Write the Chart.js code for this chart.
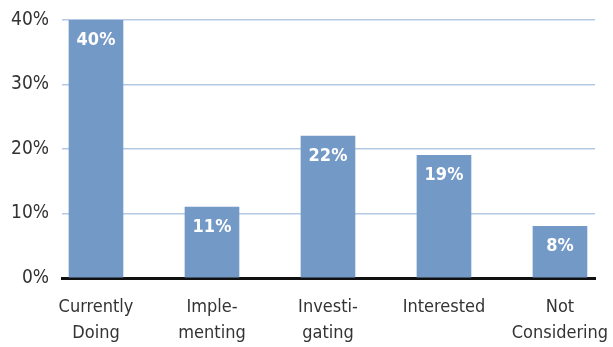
<!DOCTYPE html>
<html>
<head>
<meta charset="utf-8">
<script src="https://cdn.jsdelivr.net/npm/chart.js@4/dist/chart.umd.min.js"></script>
<style>
  html, body { margin: 0; padding: 0; background: #fff; }
  #wrap { width: 613px; height: 347px; }
</style>
</head>
<body>
<div id="wrap"><canvas id="chart"></canvas></div>
<script>
const categories = [['Currently', 'Doing'], ['Imple-', 'menting'], ['Investi-', 'gating'], ['Interested'], ['Not', 'Considering']];
const values = [40, 11, 22, 19, 8];
const yTicks = [0, 10, 20, 30, 40];

const fontFamily = '"DejaVu Sans Condensed", "DejaVu Sans", sans-serif';

// white value label near the top of each bar
const barLabels = {
    id: 'barLabels',
    afterDatasetsDraw(chart) {
        const ctx = chart.ctx;
        const meta = chart.getDatasetMeta(0);
        ctx.save();
        ctx.fillStyle = '#ffffff';
        ctx.font = 'bold 18px ' + fontFamily;
        ctx.textAlign = 'center';
        ctx.textBaseline = 'middle';
        meta.data.forEach((bar, i) => {
            ctx.fillText(values[i] + '%', bar.x, bar.y + 20);
        });
        ctx.restore();
    }
};

new Chart(document.getElementById('chart'), {
    type: 'bar',
    data: {
        datasets: [{
            data: values.map((v, i) => ({ x: i, y: v })),
            backgroundColor: '#7399c6',
            barThickness: 54
        }]
    },
    options: {
        responsive: true,
        maintainAspectRatio: false,
        animation: false,
        layout: { padding: { top: 20, right: 18, bottom: 0, left: 0 } },
        plugins: { legend: { display: false }, tooltip: { enabled: false } },
        scales: {
            x: {
                type: 'linear',
                offset: false,
                min: -0.293,
                max: 4.302,
                afterBuildTicks: (scale) => {
                    scale.ticks = categories.map((c, i) => ({ value: i }));
                },
                afterFit: (scale) => {
                    scale.height = 69;
                    scale.paddingLeft = 0;
                    scale.paddingRight = 0;
                },
                grid: { display: false },
                border: { color: '#111', width: 3 },
                ticks: {
                    color: '#333',
                    padding: 8,
                    maxRotation: 0,
                    autoSkip: false,
                    font: { family: fontFamily, size: 18, lineHeight: 1.45 },
                    callback: (v) => categories[v]
                }
            },
            y: {
                min: 0,
                max: 40,
                afterBuildTicks: (scale) => {
                    scale.ticks = yTicks.map(v => ({ value: v }));
                },
                afterFit: (scale) => {
                    scale.width = 62;
                    scale.paddingTop = 0;
                    scale.paddingBottom = 0;
                },
                grid: { color: '#b4c9e4', lineWidth: 1.5, drawTicks: false },
                border: { display: false },
                ticks: {
                    color: '#333',
                    padding: 13,
                    font: { family: fontFamily, size: 19 },
                    callback: (v) => v + '%'
                }
            }
        }
    },
    plugins: [barLabels]
});
</script>
</body>
</html>
